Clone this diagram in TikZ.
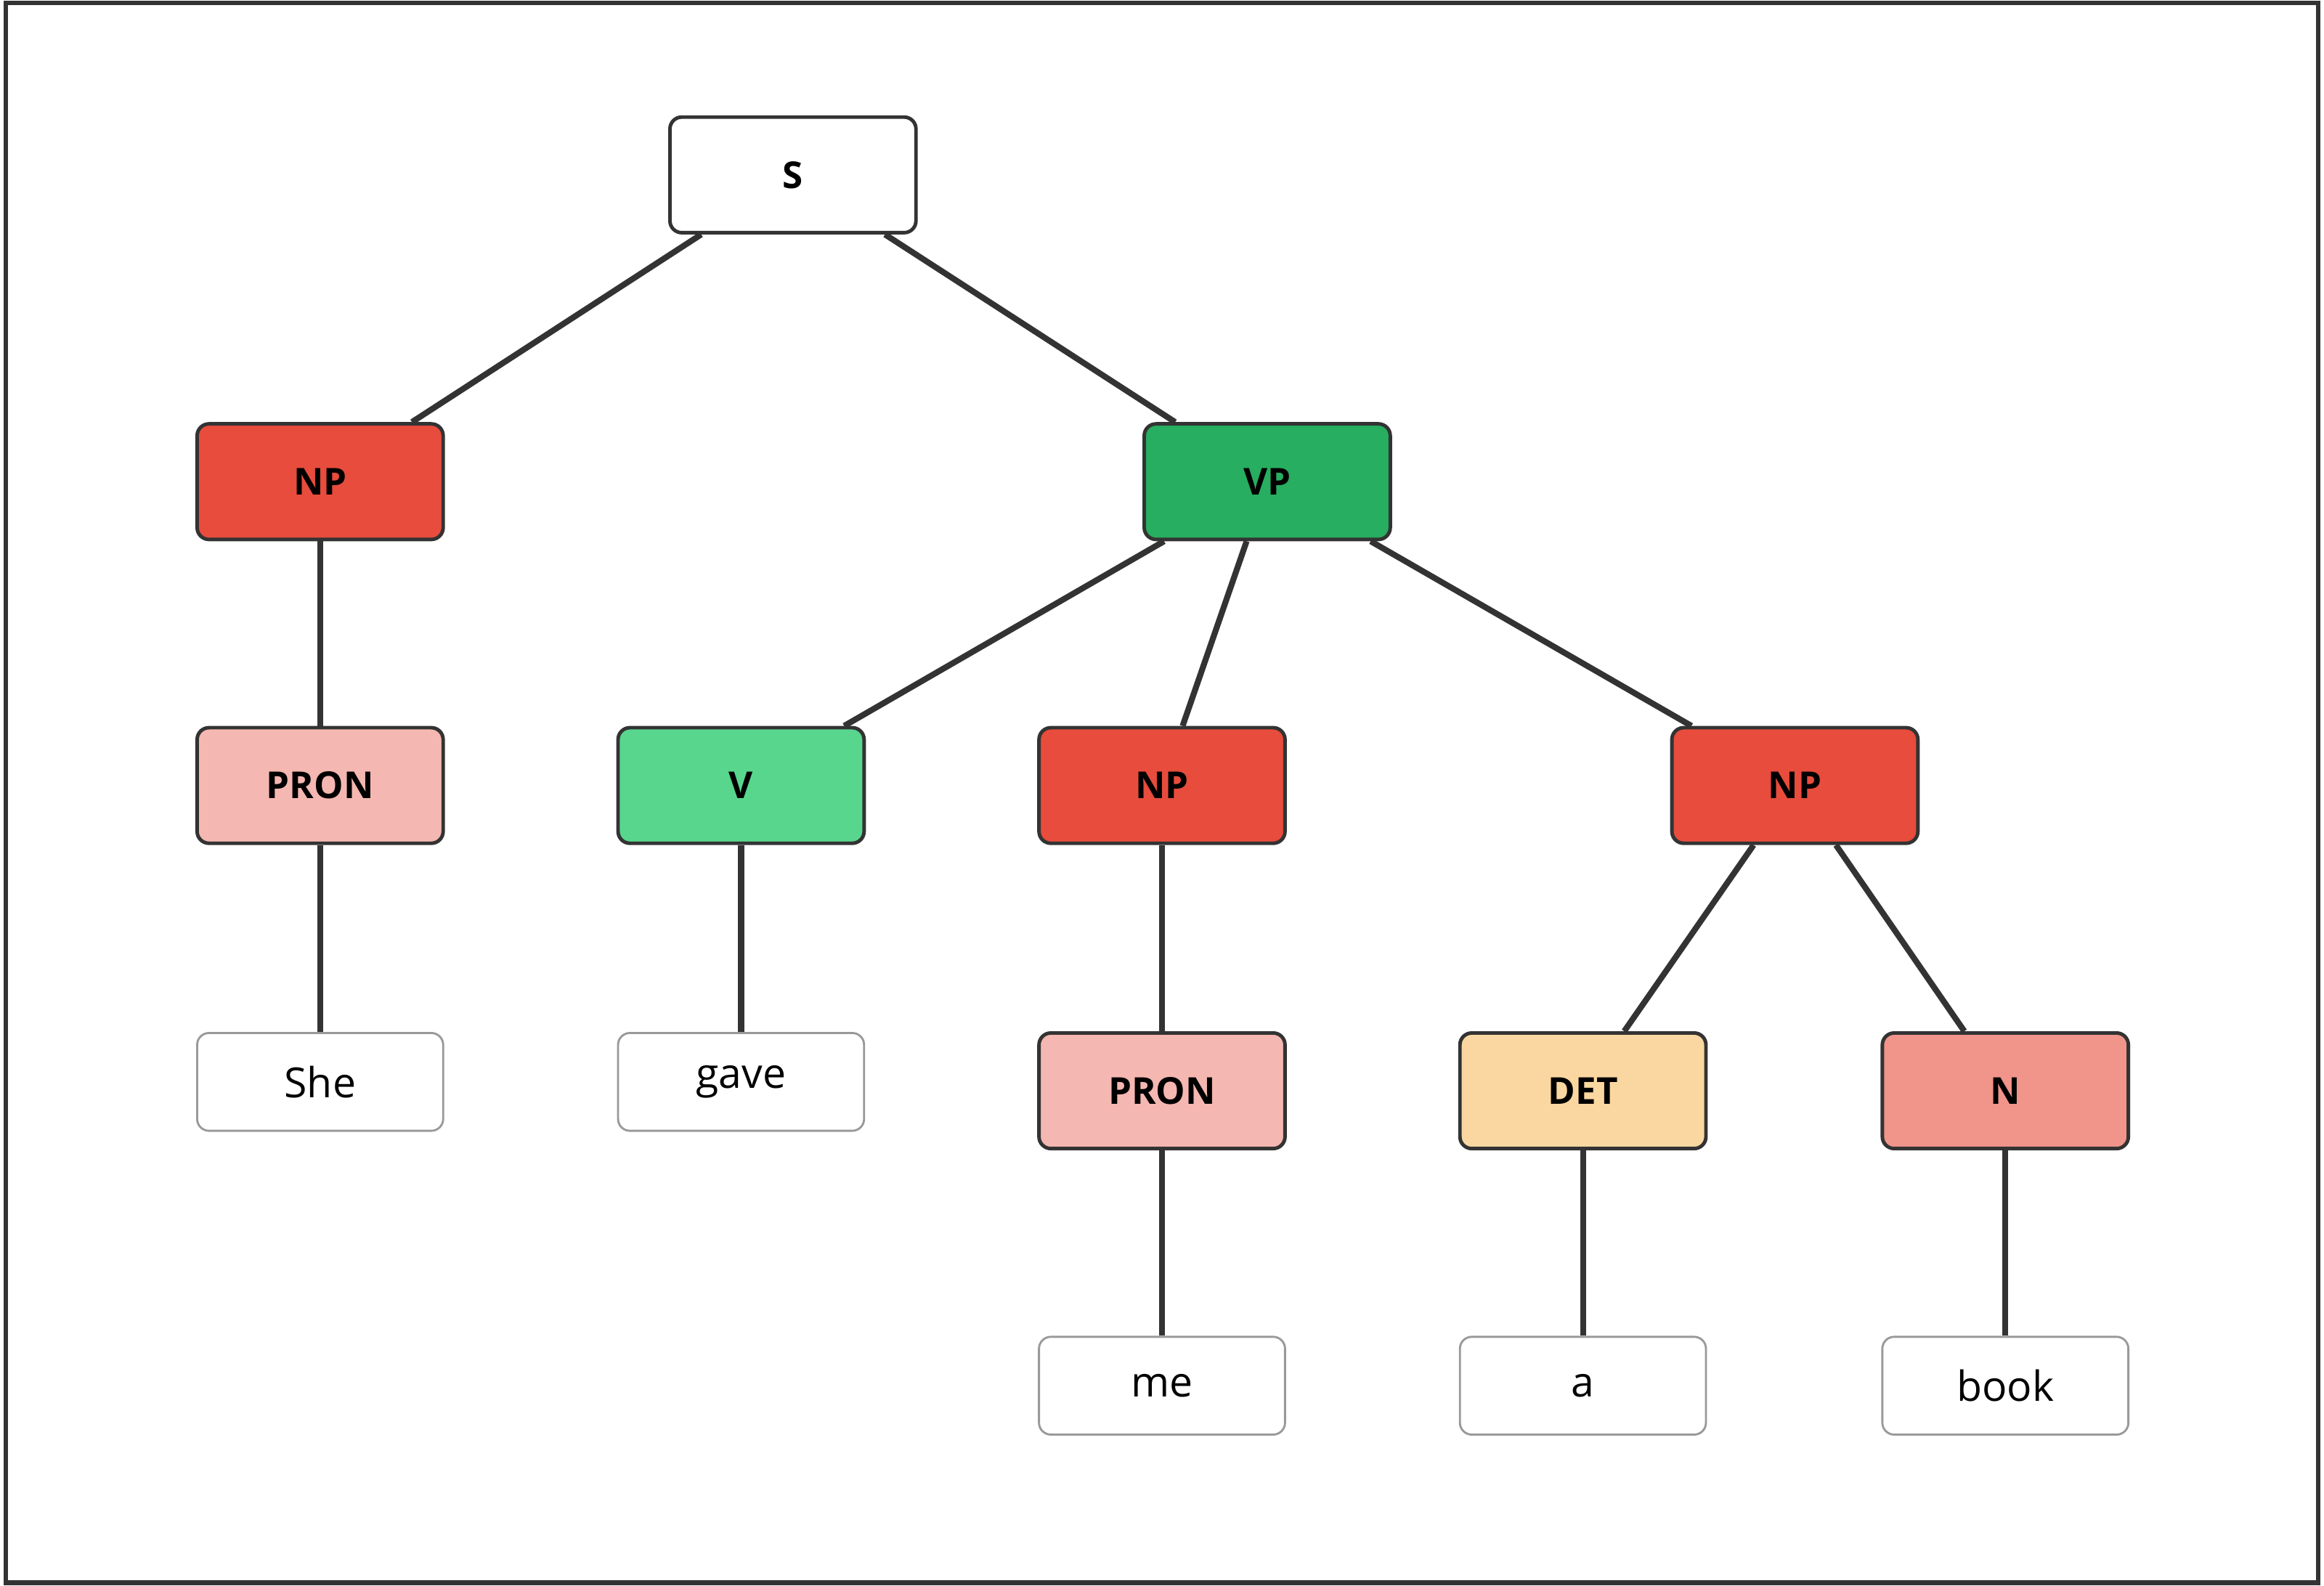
\documentclass[tikz,border=0pt]{standalone}
\usepackage{fontspec}
\setmainfont{Open Sans}
\begin{document}
\begin{tikzpicture}[x=0.5pt,y=-0.5pt,
  cat/.style={draw=black!80,line width=1.2pt,rounded corners=4pt,minimum width=83pt,minimum height=39pt,inner sep=0pt,font=\fontsize{12.5}{14}\selectfont\bfseries},
  word/.style={draw=black!40,line width=0.7pt,rounded corners=4pt,minimum width=83pt,minimum height=33pt,inner sep=0pt,fill=white,font=\fontsize{14}{16}\selectfont},
  edge/.style={draw=black!80,line width=2pt}]
\useasboundingbox (0,0) rectangle (1568,1070);
\draw[black!80,line width=1.6pt] (4,2) rectangle (1564,1068);
\node[cat,fill=white] (S) at (535,118) {S};
\node[cat,fill={rgb,255:red,231;green,76;blue,60}] (NP1) at (216,325) {NP};
\node[cat,fill={rgb,255:red,39;green,174;blue,96}] (VP) at (855,325) {VP};
\node[cat,fill={rgb,255:red,245;green,183;blue,177}] (PRON1) at (216,530) {PRON};
\node[cat,fill={rgb,255:red,88;green,214;blue,141}] (V) at (500,530) {V};
\node[cat,fill={rgb,255:red,231;green,76;blue,60}] (NP2) at (784,530) {NP};
\node[cat,fill={rgb,255:red,231;green,76;blue,60}] (NP3) at (1211,530) {NP};
\node[word] (She) at (216,730) {She};
\node[word] (gave) at (500,730) {gave};
\node[cat,fill={rgb,255:red,245;green,183;blue,177}] (PRON2) at (784,736) {PRON};
\node[cat,fill={rgb,255:red,250;green,215;blue,160}] (DET) at (1068,736) {DET};
\node[cat,fill={rgb,255:red,241;green,148;blue,138}] (N) at (1353,736) {N};
\node[word] (me) at (784,935) {me};
\node[word] (a) at (1068,935) {a};
\node[word] (book) at (1353,935) {book};
\draw[edge] (S) -- (NP1);
\draw[edge] (S) -- (VP);
\draw[edge] (NP1) -- (PRON1);
\draw[edge] (PRON1) -- (She);
\draw[edge] (VP) -- (V);
\draw[edge] (VP) -- (NP2);
\draw[edge] (VP) -- (NP3);
\draw[edge] (V) -- (gave);
\draw[edge] (NP2) -- (PRON2);
\draw[edge] (PRON2) -- (me);
\draw[edge] (NP3) -- (DET);
\draw[edge] (NP3) -- (N);
\draw[edge] (DET) -- (a);
\draw[edge] (N) -- (book);
\end{tikzpicture}
\end{document}
